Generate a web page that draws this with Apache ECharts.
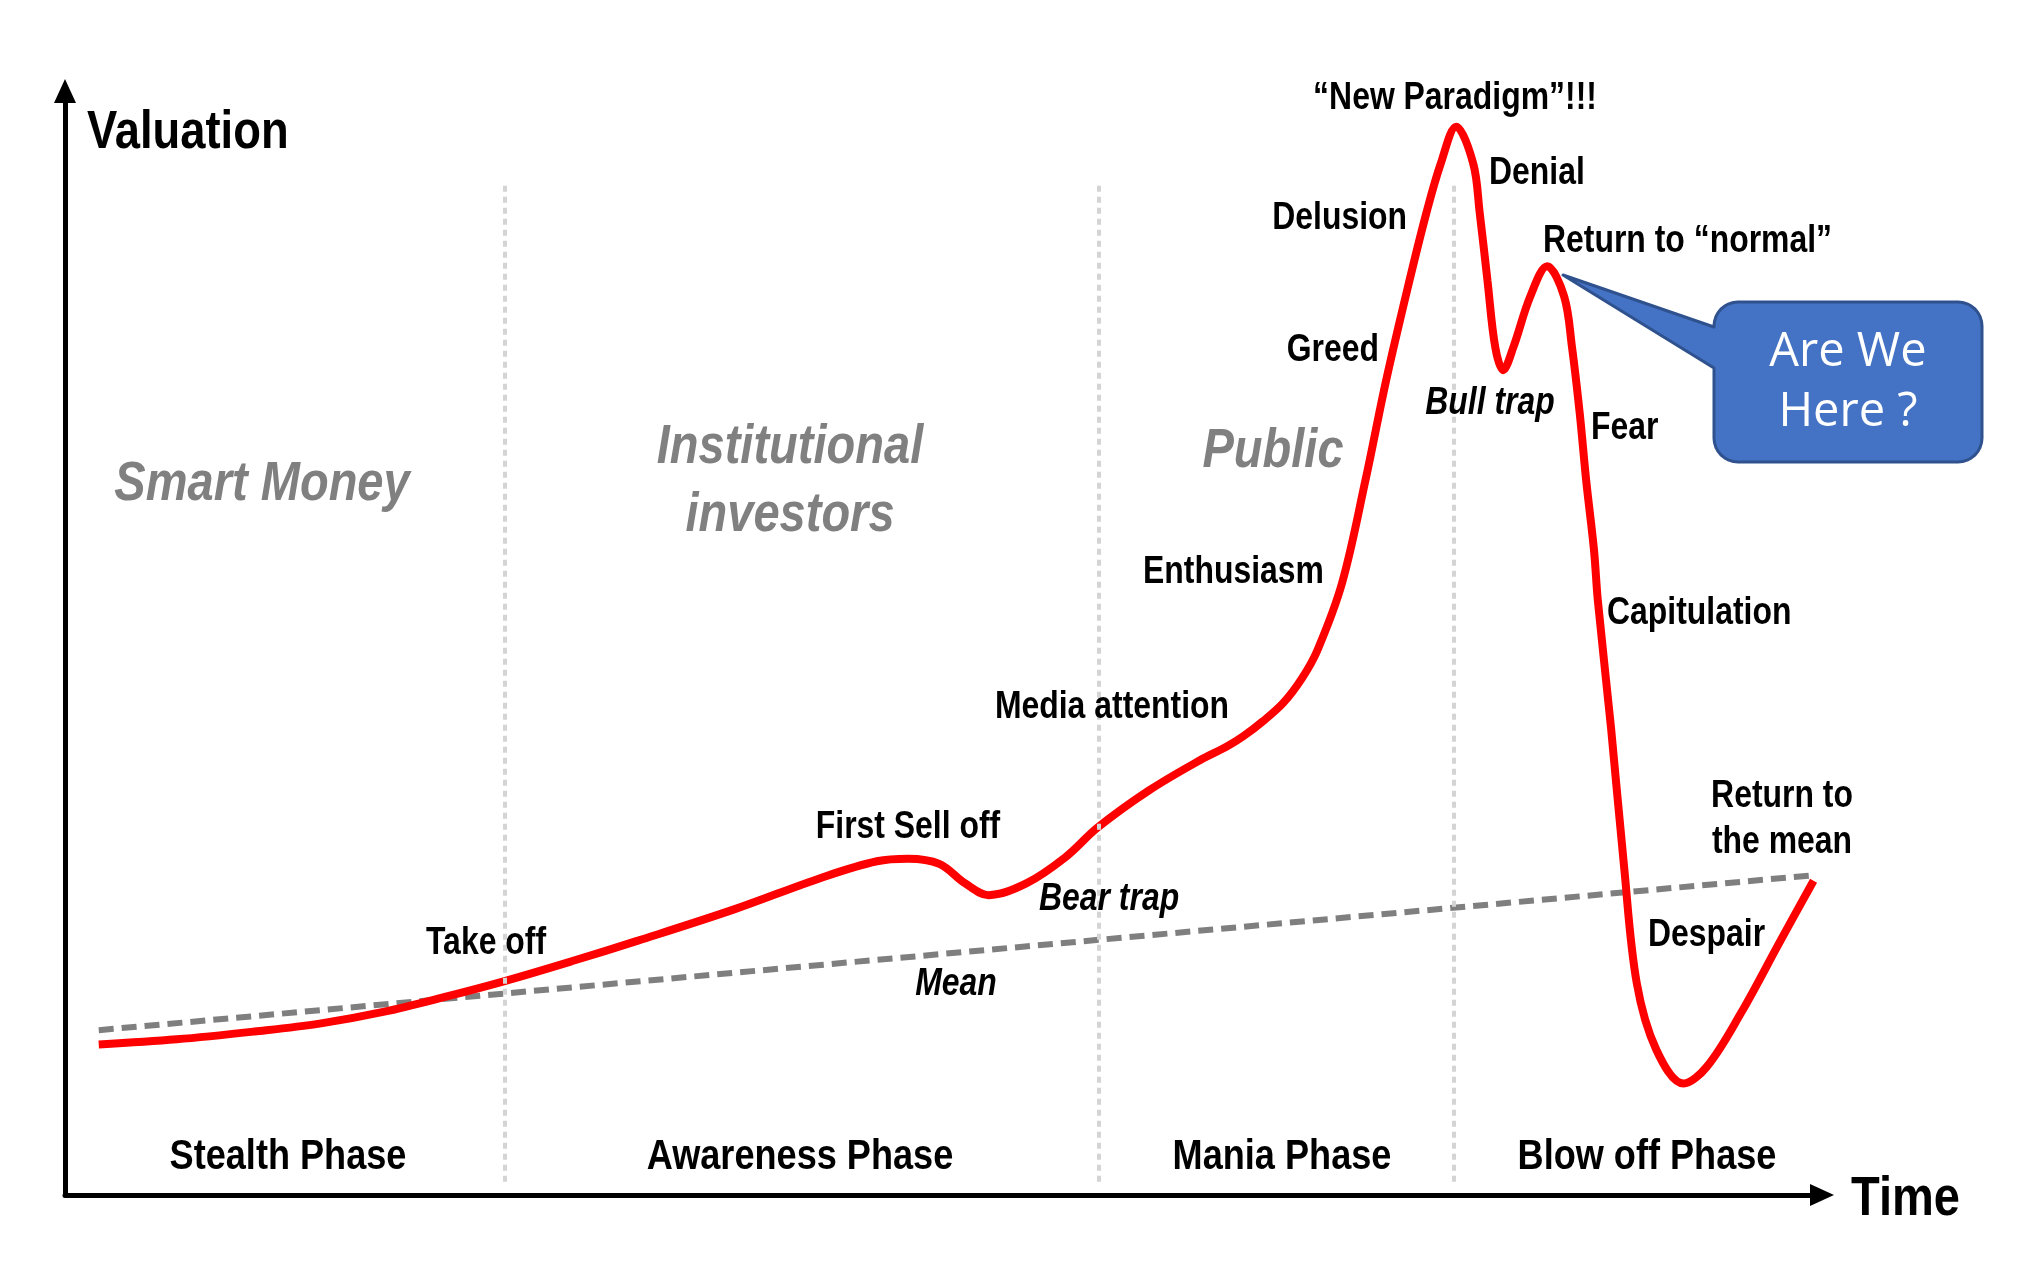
<!DOCTYPE html>
<html>
<head>
<meta charset="utf-8">
<script src="https://cdn.jsdelivr.net/npm/echarts/dist/echarts.min.js"></script>
<style>
html,body{margin:0;padding:0;background:#ffffff;}
#chart{width:2037px;height:1281px;}
</style>
</head>
<body>
<div id="chart"></div>
<script>
// ================= DATA =================
// Time (0-100) and valuation (0-100) of the bubble curve
const timeX = [1.92, 6.36, 10.79, 14.49, 18.11, 21.74, 25.07, 28.83, 32.61, 38.08, 43.18, 46.21, 47.99, 49.76, 51.24, 52.57, 54.71, 56.93, 58.78, 61.74, 64.62, 66.10, 67.06, 68.17, 69.35, 70.40, 71.27, 72.68, 74.01, 75.19, 76.52, 77.48, 78.30, 79.18, 80.15, 80.52, 80.96, 81.40, 81.85, 82.44, 83.40, 84.36, 85.32, 85.77, 86.21, 86.58, 87.02, 87.24, 87.99, 88.72, 89.46, 90.57, 92.12, 93.45, 95.38, 97.60, 99.52];
const valuation = [13.63, 14.10, 14.81, 15.52, 16.58, 17.99, 19.40, 21.17, 23.04, 25.87, 28.81, 30.23, 30.46, 29.99, 28.22, 27.16, 28.22, 30.58, 33.29, 36.69, 39.40, 40.60, 41.55, 42.90, 44.60, 46.80, 49.30, 55.41, 64.70, 73.77, 82.83, 88.94, 93.42, 96.77, 93.42, 88.94, 82.83, 76.82, 74.71, 76.82, 81.41, 84.12, 81.41, 76.82, 70.82, 64.70, 58.47, 53.88, 42.35, 29.99, 19.17, 13.16, 10.10, 11.63, 16.46, 22.93, 28.46];
// Long-run mean (straight trend)
const meanX = [1.92, 99.29];
const meanY = [14.93, 28.93];
// Phase dividers (time) and their vertical span (valuation)
const phaseDividerX = [25.04, 58.85, 79.05];
const phaseDividerSpan = [1.2, 91.7];
// Texts
const phaseNames = ['Stealth Phase', 'Awareness Phase', 'Mania Phase', 'Blow off Phase'];
const groupNames = ['Smart Money', 'Institutional\ninvestors', 'Public'];
const stageNames = ['\u201CNew Paradigm\u201D!!!', 'Denial', 'Delusion', 'Return to \u201Cnormal\u201D', 'Greed', 'Bull trap', 'Fear', 'Enthusiasm', 'Capitulation', 'Media attention', 'First Sell off', 'Bear trap', 'Take off', 'Mean', 'Return to\nthe mean', 'Despair'];
const axisNames = ['Time', 'Valuation'];
const calloutText = 'Are We\nHere ?';

// ================= LAYOUT / STYLE =================
const FONT = '"Liberation Sans", Arial, sans-serif';
const NARROW = 0.84;
const stageLayout = [
  [1455, 99, 'center', false],
  [1489, 174, 'left', false],
  [1407, 219, 'right', false],
  [1543, 242, 'left', false],
  [1379, 351, 'right', false],
  [1490, 404, 'center', true],
  [1591, 429, 'left', false],
  [1324, 573, 'right', false],
  [1607, 614, 'left', false],
  [1229, 708, 'right', false],
  [908, 828, 'center', false],
  [1039, 900, 'left', true],
  [486, 944, 'center', false],
  [956, 985, 'center', true],
  [1782, 820, 'center', false],
  [1648, 936, 'left', false]
];
const phaseLayout = [[288, 1157], [800, 1157], [1282, 1157], [1647, 1157]];
const groupLayout = [[262, 485], [790, 482], [1273, 452]];

const chart = echarts.init(document.getElementById('chart'), null, {renderer: 'canvas'});

const curveData = timeX.map((x, i) => [x, valuation[i]]);
const meanData = meanX.map((x, i) => [x, meanY[i]]);
const dividerLines = phaseDividerX.map(x => [
  {coord: [x, phaseDividerSpan[0]]},
  {coord: [x, phaseDividerSpan[1]]}
]);

function narrowText(x, y, text, opts) {
  return {
    type: 'text', x: x, y: y, z: 10, scaleX: NARROW, scaleY: 1,
    style: Object.assign({
      text: text, fill: '#000', fontWeight: 'bold', fontFamily: FONT,
      verticalAlign: 'middle'
    }, opts)
  };
}

const graphics = [];
stageNames.forEach((t, i) => {
  const L = stageLayout[i];
  graphics.push(narrowText(L[0], L[1], t, {
    fontSize: 38, fontStyle: L[3] ? 'italic' : 'normal', align: L[2], lineHeight: 46
  }));
});
phaseNames.forEach((t, i) => {
  graphics.push(narrowText(phaseLayout[i][0], phaseLayout[i][1], t, {fontSize: 43, align: 'center'}));
});
groupNames.forEach((t, i) => {
  graphics.push(narrowText(groupLayout[i][0], groupLayout[i][1], t, {
    fill: '#808080', fontSize: 56, fontStyle: 'italic', align: 'center', lineHeight: 68
  }));
});
// Axis titles
graphics.push(narrowText(87, 133, axisNames[1], {fontSize: 54, align: 'left'}));
graphics.push(narrowText(1851, 1200, axisNames[0], {fontSize: 56, align: 'left'}));

// Callout bubble (rounded rectangle with a pointer)
const bx0 = 1714, by0 = 302, bx1 = 1982, by1 = 462, rr = 24;
function arcPts(cx, cy, a0, a1) {
  const pts = [];
  for (let k = 0; k <= 8; k++) {
    const a = a0 + (a1 - a0) * k / 8;
    pts.push([cx + rr * Math.cos(a), cy + rr * Math.sin(a)]);
  }
  return pts;
}
let bubble = [];
bubble = bubble.concat(arcPts(bx0 + rr, by0 + rr, Math.PI, 1.5 * Math.PI));
bubble = bubble.concat(arcPts(bx1 - rr, by0 + rr, 1.5 * Math.PI, 2 * Math.PI));
bubble = bubble.concat(arcPts(bx1 - rr, by1 - rr, 0, 0.5 * Math.PI));
bubble = bubble.concat(arcPts(bx0 + rr, by1 - rr, 0.5 * Math.PI, Math.PI));
bubble.push([bx0, 368], [1563, 275], [bx0, 327]);
graphics.push({
  type: 'polygon', z: 20,
  shape: {points: bubble},
  style: {fill: '#4472C4', stroke: '#2F528F', lineWidth: 3, lineJoin: 'round'}
});
graphics.push({
  type: 'text', x: 1848, y: 383, z: 21,
  style: {text: calloutText, fill: '#ffffff', fontSize: 47, fontFamily: '"Open Sans", "Noto Sans", sans-serif',
          align: 'center', verticalAlign: 'middle', lineHeight: 60}
});

const option = {
  backgroundColor: '#ffffff',
  animation: false,
  grid: {left: 65, right: 215, top: 91, bottom: 86, containLabel: false},
  xAxis: {
    type: 'value', min: 0, max: 100,
    axisLine: {show: true, symbol: ['none', 'triangle'], symbolSize: [22, 24],
               lineStyle: {color: '#000', width: 5}},
    axisTick: {show: false}, axisLabel: {show: false}, splitLine: {show: false}
  },
  yAxis: {
    type: 'value', min: 0, max: 100,
    axisLine: {show: true, onZero: false, symbol: ['none', 'triangle'], symbolSize: [22, 24],
               lineStyle: {color: '#000', width: 5}},
    axisTick: {show: false}, axisLabel: {show: false}, splitLine: {show: false}
  },
  series: [
    {
      name: 'Phases', type: 'line', data: [], silent: true,
      markLine: {
        silent: true, symbol: ['none', 'none'], label: {show: false},
        lineStyle: {color: '#d4d4d4', width: 4, type: [6, 5]},
        data: dividerLines
      }
    },
    {
      name: 'Mean', type: 'line', data: meanData, showSymbol: false, silent: true, z: 3,
      lineStyle: {color: '#7f7f7f', width: 6, type: [15, 8]}
    },
    {
      name: 'Valuation', type: 'line', data: curveData, showSymbol: false, silent: true,
      smooth: 0.35, z: 4,
      lineStyle: {color: '#ff0000', width: 8}
    }
  ],
  graphic: graphics
};
chart.setOption(option);
</script>
</body>
</html>
